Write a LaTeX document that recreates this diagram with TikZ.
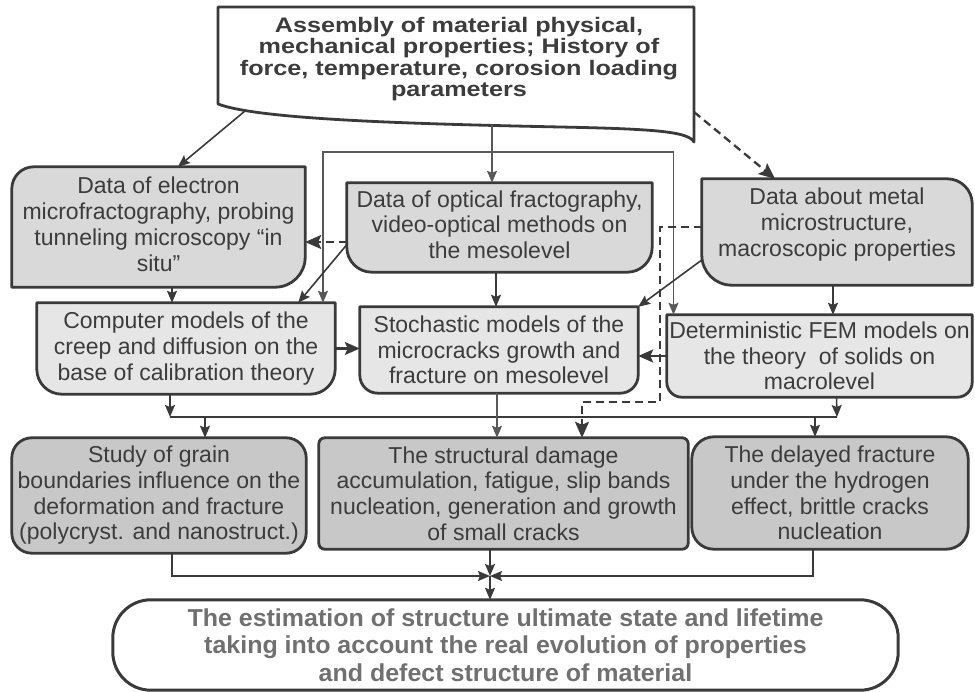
\documentclass[tikz,border=0pt]{standalone}
\usepackage{fontspec}
\setmainfont{Liberation Sans}
\newfontfamily\titlefont{Liberation Sans}[FakeStretch=1.2]
\newfontfamily\endfont{Liberation Sans}[FakeStretch=1.02]
\usetikzlibrary{arrows.meta,calc,backgrounds}
\definecolor{linec}{HTML}{3A3A3A}
\definecolor{txtc}{HTML}{3C3C3C}
\definecolor{fa}{HTML}{D9D9D9}
\definecolor{fb}{HTML}{E6E6E6}
\definecolor{fc}{HTML}{C8C8C8}
\definecolor{endc}{HTML}{707070}
\begin{document}
\begin{tikzpicture}[x=1pt,y=-1pt,
 lbl/.style={inner sep=0pt, align=center, text=txtc, font=\fontsize{23}{25.7}\selectfont},
 boxline/.style={draw=linec, line width=2.8pt, line join=round},
 conn/.style={draw=linec, line width=1.6pt, -{Stealth[length=12pt,width=10pt,inset=2pt]}},
 connthin/.style={draw=linec!85, line width=1.3pt, -{Stealth[length=12pt,width=10pt,inset=2pt]}},
 connbig/.style={draw=linec, line width=2.2pt, -{Stealth[length=15pt,width=13pt,inset=3pt]}},
 dconn/.style={draw=linec, line width=2.3pt, dash pattern=on 8pt off 5pt, -{Stealth[length=16pt,width=14pt,inset=3pt]}},
 busline/.style={draw=linec, line width=2.4pt},
]
\useasboundingbox (0,0) rectangle (975,692);

% ---------- nodes (text) ----------
\node[inner sep=0pt, align=center, text=txtc, font=\titlefont\bfseries\fontsize{21}{21.3}\selectfont] (doc) at (459,59)
 {Assembly of material physical,\\mechanical properties; History of\\force, temperature, corosion loading\\parameters};

\node[lbl, minimum width=293pt, minimum height=120pt] (b1) at (158.5,227)
 {Data of electron\\microfractography, probing\\tunneling microscopy “in\\situ”\\[-20pt]\mbox{}};
\node[lbl, minimum width=305pt, minimum height=89pt] (b2) at (499.5,227.5)
 {Data of optical fractography,\\video-optical methods on\\the mesolevel\\[-20pt]\mbox{}};
\node[lbl, minimum width=270pt, minimum height=106pt] (b3) at (837,232)
 {Data about metal\\microstructure,\\macroscopic properties\\[-5.7pt]\mbox{}};

\node[lbl, minimum width=298pt, minimum height=91pt] (b4) at (186,348.5)
 {Computer models of the\\creep and diffusion on the\\base of calibration theory};
\node[lbl, minimum width=278pt, minimum height=86pt] (b5) at (499,350)
 {Stochastic models of the\\microcracks growth and\\fracture on mesolevel};
\node[lbl, minimum width=305pt, minimum height=82pt] (b6) at (819.5,356)
 {Deterministic FEM models on\\the theory\ \ of solids on\\macrolevel};

\node[lbl, minimum width=294pt, minimum height=115pt] (b7) at (159,495.5)
 {Study of grain\\boundaries influence on the\\deformation and fracture\\(polycryst. and nanostruct.)};
\node[lbl, minimum width=369pt, minimum height=111pt] (b8) at (503.5,493.5)
 {The structural damage\\accumulation, fatigue, slip bands\\nucleation, generation and growth\\of small cracks};
\node[lbl, minimum width=276pt, minimum height=112pt] (b9) at (830,493)
 {The delayed fracture\\under the hydrogen\\effect, brittle cracks\\nucleation};

\node[inner sep=0pt, align=center, text=endc, font=\endfont\bfseries\fontsize{24.5}{27.5}\selectfont,
      minimum width=785pt, minimum height=90pt] (b10) at (505.5,645)
 {The estimation of structure ultimate state and lifetime\\taking into account the real evolution of properties\\and defect structure of material};

% ---------- shapes ----------
\begin{scope}[on background layer]
\draw[boxline, fill=white] (218,104) -- (218,7) -- (694,7) -- (694,142)
  .. controls (688,132) and (660,129) .. (560,127)
  .. controls (420,124) and (260,120) .. (218,104) -- cycle;
\draw[boxline, fill=fa] (b1.south west) -- ($(b1.north west)+(0,22)$) arc[start angle=180,end angle=270,radius=22]
  -- (b1.north east) -- ($(b1.south east)+(0,-30)$) arc[start angle=0,end angle=90,radius=30] -- cycle;
\draw[boxline, fill=fa] (b2.north west) -- ($(b2.south west)+(0,-25)$) arc[start angle=180,end angle=90,radius=25]
  -- ($(b2.south east)+(-25,0)$) arc[start angle=90,end angle=0,radius=25] -- (b2.north east) -- cycle;
\draw[boxline, fill=fa] (b3.north west) -- ($(b3.north east)+(-25,0)$) arc[start angle=270,end angle=360,radius=25]
  -- (b3.south east) -- ($(b3.south west)+(30,0)$) arc[start angle=90,end angle=180,radius=30] -- cycle;
\draw[boxline, fill=fb] (b4.north west) -- ($(b4.south west)+(0,-25)$) arc[start angle=180,end angle=90,radius=25]
  -- ($(b4.south east)+(-25,0)$) arc[start angle=90,end angle=0,radius=25] -- (b4.north east) -- cycle;
\draw[boxline, fill=fb] (b5.north west) -- ($(b5.south west)+(0,-18)$) arc[start angle=180,end angle=90,radius=18]
  -- ($(b5.south east)+(-18,0)$) arc[start angle=90,end angle=0,radius=18] -- (b5.north east) -- cycle;
\draw[boxline, fill=fb] (b6.north west) -- ($(b6.south west)+(0,-15)$) arc[start angle=180,end angle=90,radius=15]
  -- ($(b6.south east)+(-15,0)$) arc[start angle=90,end angle=0,radius=15] -- (b6.north east) -- cycle;
\draw[boxline, fill=fc, rounded corners=20pt] (b7.north west) rectangle (b7.south east);
\draw[boxline, fill=fc, rounded corners=6pt] (b8.north west) rectangle (b8.south east);
\draw[boxline, fill=fc, rounded corners=22pt] (b9.north west) rectangle (b9.south east);
\draw[boxline, line width=3pt, fill=white, rounded corners=38pt] (b10.north west) rectangle (b10.south east);
\end{scope}

% ---------- connectors ----------
\coordinate (d1) at (245,111);
\coordinate (d2) at (492,125);
\coordinate (d3) at (694,112);
\coordinate (j) at (492,152);
\coordinate (bl) at (170,417);
\coordinate (br) at (837,417);
\coordinate (bt1) at (205,417);
\coordinate (bt2) at (815,417);
\coordinate (m) at (490,576);

\draw[conn] (d1) -- ($(b1.north)+(19.5,0)$);
\draw[connthin] (d2) -- (d2 |- b2.north);
\draw[connthin] (j) -| ($(b4.north)+(137,0)$);
\draw[connthin] (j) -| ($(b6.north)+(-146,0)$);
\draw[dconn] (d3) -- ($(b3.north)+(-62,0)$);

\draw[dconn] ($(b2.west)+(0,14.5)$) -- ($(b1.east)+(0,15)$);
\draw[conn] ($(b2.west)+(1,16)$) -- ($(b4.north east)+(-37,0)$);
\draw[conn] ($(b1.south)+(13.5,0)$) -- ($(b4.north)+(-14,0)$);
\draw[conn] ($(b2.south)+(-3.5,0)$) -- ($(b5.north)+(-3,0)$);
\draw[conn] ($(b3.west)+(0,28)$) -- (b5.north east);
\draw[dconn] ($(b3.west)+(0,-5)$) -| (660,402) -| ($(b8.north)+(78.5,0)$);
\draw[conn] ($(b3.south)+(-4,0)$) -- ($(b6.north)+(13.5,0)$);

\draw[connbig] (b4.east) -- (b5.west |- b4.east);
\draw[connbig] (b6.west) -- (b5.east |- b6.west);

\draw[conn] ($(b4.south)+(-16,0)$) -- (bl);
\draw[busline] (bl) -- (br);
\draw[conn] ($(b6.south)+(17,0)$) -- (br);
\draw[conn] (bt1) -- ($(b7.north)+(46,0)$);
\draw[conn] (bt2) -- ($(b9.north)+(-15,0)$);
\draw[connthin] ($(b5.south)+(-2,0)$) -- ($(b8.north)+(-6.5,0)$);

\draw[conn] ($(b7.south)+(13,0)$) |- (m);
\draw[conn] ($(b9.south)+(-17,0)$) |- (m);
\draw[conn] ($(b8.south)+(-13.5,0)$) -- (m);
\draw[conn] (m) -- (m |- b10.north);
\end{tikzpicture}
\end{document}
